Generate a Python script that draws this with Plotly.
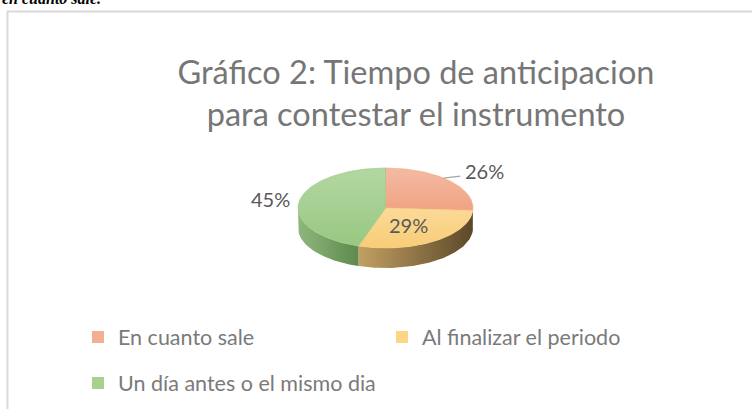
import numpy as np
import plotly.graph_objects as go

# ---------------- data ----------------
categories = ["En cuanto sale", "Al finalizar el periodo", "Un día antes o el mismo dia"]
values = [26, 29, 45]
pct_labels = ["26%", "29%", "45%"]
title_lines = ["Gráfico 2: Tiempo de anticipacion", "para contestar el instrumento"]
caption_above = "en cuanto sale."

# ---------------- style ----------------
W, H = 752, 409
top_colors = [("#F3BBA3", "#F1A283"), ("#FBDA97", "#F8CC78"), ("#B3D7A2", "#98C882")]
legend_colors = ["#F4AE92", "#FDD684", "#A9D18E"]
wall_colors = [("#B8745A", "#8A4E38"), ("#C2A063", "#5C4829"), ("#8EB77C", "#5E8A4E")]
CX, CY, RX, RY, DEPTH = 385.5, 208.0, 87.5, 40.0, 20.0
FONT = "Lato"

fig = go.Figure()

total = float(sum(values))
bounds = np.concatenate([[0.0], np.cumsum(values) / total * 360.0])


def ell(theta_deg, dy=0.0):
    t = np.radians(theta_deg)
    return CX + RX * np.sin(t), CY - RY * np.cos(t) + dy


# side walls (front half only: 90..270 deg clockwise from 12 o'clock)
for i in range(len(values)):
    a0, a1 = max(bounds[i], 90.0), min(bounds[i + 1], 270.0)
    if a1 <= a0:
        continue
    th = np.linspace(a0, a1, 80)
    xt, yt = ell(th)
    xb, yb = ell(th[::-1], DEPTH)
    xs = np.concatenate([xt, xb, [xt[0]]])
    ys = np.concatenate([yt, yb, [yt[0]]])
    c_left, c_right = wall_colors[i]
    fig.add_trace(go.Scatter(
        x=xs, y=ys, mode="lines", fill="toself", line=dict(width=0),
        fillcolor=c_right,
        fillgradient=dict(type="horizontal", colorscale=[[0, c_left], [1, c_right]],
                          start=float(xs.min()), stop=float(xs.max())),
        hoverinfo="skip", showlegend=False))

# top faces
for i in range(len(values)):
    th = np.linspace(bounds[i], bounds[i + 1], 120)
    xa, ya = ell(th)
    xs = np.concatenate([[CX], xa, [CX]])
    ys = np.concatenate([[CY], ya, [CY]])
    c_top, c_bot = top_colors[i]
    fig.add_trace(go.Scatter(
        x=xs, y=ys, mode="lines", fill="toself", line=dict(width=0.6, color=c_bot),
        fillcolor=c_bot,
        fillgradient=dict(type="vertical", colorscale=[[0, c_top], [1, c_bot]],
                          start=float(ys.min()), stop=float(ys.max())),
        hoverinfo="skip", showlegend=False))

# legend-only entries
for i, cat in enumerate(categories):
    fig.add_trace(go.Scatter(
        x=[None], y=[None], mode="markers", name=cat,
        marker=dict(symbol="square", size=12, color=legend_colors[i]),
        legend="legend" if i < 2 else "legend2"))

# data labels
mids = (bounds[:-1] + bounds[1:]) / 2.0
label_font = dict(family=FONT, size=20, color="#595959")
# inside label for the middle slice
x29, y29 = ell(mids[1])
fig.add_annotation(x=CX + 0.55 * (x29 - CX) - 4, y=CY + 0.55 * (y29 - CY) - 1,
                   text=pct_labels[1], showarrow=False, font=label_font,
                   xanchor="center", yanchor="middle")
# outside label with leader line for first slice
x26, y26 = ell(mids[0])
fig.add_shape(type="line", x0=x26 - 6, y0=y26 - 2.5, x1=x26 + 11, y1=y26 - 4.5,
              line=dict(color="#A6A6A6", width=1.2))
fig.add_annotation(x=x26 + 14, y=y26 - 10, text=pct_labels[0], showarrow=False,
                   font=label_font, xanchor="left", yanchor="middle")
# outside label for last slice
x45, y45 = ell(mids[2])
fig.add_annotation(x=x45 - 7, y=y45 - 2.5, text=pct_labels[2], showarrow=False,
                   font=label_font, xanchor="right", yanchor="middle")

# chart frame
fig.add_shape(type="rect", x0=7.5, y0=11.5, x1=W + 20, y1=H + 20,
              line=dict(color="#D9D9D9", width=2), fillcolor="rgba(0,0,0,0)", layer="below")

# caption text cut off at the top (as in the reference)
fig.add_annotation(x=0, y=9, xanchor="left", yanchor="bottom", text="<b><i>" + caption_above + "</i></b>",
                   showarrow=False, font=dict(family="Liberation Serif", size=16, color="#000000"))

leg_font = dict(family=FONT, size=21.5, color="#7A7A7A")
fig.update_layout(
    width=W, height=H,
    margin=dict(l=0, r=0, t=0, b=0),
    paper_bgcolor="white", plot_bgcolor="white",
    title=dict(text="<br>".join(title_lines), x=416 / W, xanchor="center",
               y=1 - 84 / H, yanchor="top",
               font=dict(family=FONT, size=32.5, color="#767676")),
    xaxis=dict(range=[0, W], visible=False, fixedrange=True),
    yaxis=dict(range=[H, 0], visible=False, fixedrange=True),
    legend=dict(orientation="h", x=78 / W, xanchor="left", y=1 - 337 / H, yanchor="middle",
                entrywidth=259, entrywidthmode="pixels",
                font=leg_font, bgcolor="rgba(0,0,0,0)"),
    legend2=dict(orientation="h", x=78 / W, xanchor="left", y=1 - 383 / H, yanchor="middle",
                 font=leg_font, bgcolor="rgba(0,0,0,0)"),
    showlegend=True,
)

fig.write_html("out.html", config={"displayModeBar": False},
               post_script="document.body.style.margin='0';document.body.style.overflow='hidden';")
